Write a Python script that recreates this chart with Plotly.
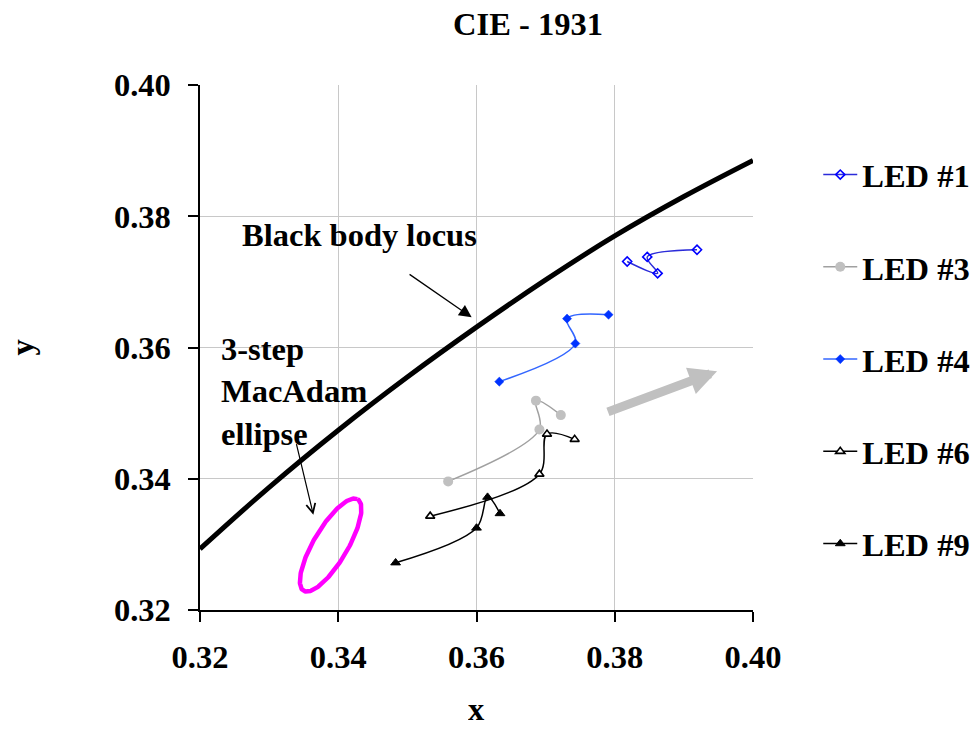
import numpy as np
import plotly.graph_objects as go

# ---- data -------------------------------------------------------------
led1_x = [0.3818, 0.3862, 0.3847, 0.3919]
led1_y = [0.3731, 0.3713, 0.3738, 0.3749]

led3_x = [0.3559, 0.3691, 0.3686, 0.3722]
led3_y = [0.3396, 0.3475, 0.3519, 0.3497]

led4_x = [0.3633, 0.3743, 0.3731, 0.3791]
led4_y = [0.3548, 0.3606, 0.3644, 0.3650]

led6_x = [0.3533, 0.3691, 0.3702, 0.3742]
led6_y = [0.3343, 0.3407, 0.3468, 0.3460]

led9_x = [0.3483, 0.3600, 0.3616, 0.3634]
led9_y = [0.3272, 0.3325, 0.3372, 0.3347]

locus_x = [0.32, 0.33, 0.34, 0.35, 0.36, 0.37, 0.38, 0.39, 0.40]
locus_y = [0.3293, 0.3387, 0.3474, 0.3555, 0.3631, 0.3703, 0.3770, 0.3830, 0.3885]

# 3-step MacAdam ellipse: centre, semi-axes, tilt (degrees)
ell_center = (0.3389, 0.3299)
ell_a, ell_b, ell_theta = 0.0080, 0.0025, 61.0

tick_vals = [0.32, 0.34, 0.36, 0.38, 0.40]
tick_text = ["0.32", "0.34", "0.36", "0.38", "0.40"]

FONT = "Liberation Serif, Times New Roman, serif"
FS = 32.5
BOLD = dict(family=FONT, size=FS, color="black", weight="bold")

fig = go.Figure()

# black body locus
fig.add_trace(go.Scatter(x=locus_x, y=locus_y, mode="lines",
                         line=dict(color="black", width=5, shape="spline"),
                         showlegend=False, hoverinfo="skip"))

# MacAdam ellipse outline
t = np.linspace(0, 2 * np.pi, 200)
th = np.deg2rad(ell_theta)
ex = ell_center[0] + ell_a * np.cos(t) * np.cos(th) - ell_b * np.sin(t) * np.sin(th)
ey = ell_center[1] + ell_a * np.cos(t) * np.sin(th) + ell_b * np.sin(t) * np.cos(th)
fig.add_trace(go.Scatter(x=ex, y=ey, mode="lines",
                         line=dict(color="#ff00ff", width=4.5),
                         showlegend=False, hoverinfo="skip"))

series = [
    ("LED #1", led1_x, led1_y, "#2b2bd9",
     dict(symbol="diamond-open", size=7, color="#0000ff", line=dict(width=1.6, color="#0000ff"))),
    ("LED #3", led3_x, led3_y, "#a0a0a0",
     dict(symbol="circle", size=10, color="#c0c0c0", line=dict(width=0))),
    ("LED #4", led4_x, led4_y, "#3366ff",
     dict(symbol="diamond", size=7, color="#0033ff", line=dict(width=0.5, color="#0033ff"))),
    ("LED #6", led6_x, led6_y, "#000000",
     dict(symbol="triangle-up", size=8, color="white", line=dict(width=1.6, color="black"))),
    ("LED #9", led9_x, led9_y, "#000000",
     dict(symbol="triangle-up", size=8.5, color="black", line=dict(width=1, color="black"))),
]
for name, xs, ys, lc, mk in series:
    fig.add_trace(go.Scatter(x=xs, y=ys, mode="lines+markers", name=name,
                             legendgroup=name,
                             line=dict(color=lc, width=1.5, shape="spline", smoothing=1),
                             marker=mk))

annotations = [
    dict(x=0.3258, y=0.3771, xref="x", yref="y", text="Black body locus",
         showarrow=False, xanchor="left", yanchor="middle"),
    dict(x=0.3228, y=0.3533, xref="x", yref="y",
         text="3-step<br>MacAdam<br>ellipse",
         showarrow=False, xanchor="left", yanchor="middle", align="left"),
    # pointer to the locus
    dict(x=0.3593, y=0.3646, ax=0.3501, ay=0.3713, xref="x", yref="y",
         axref="x", ayref="y", text="", showarrow=True, arrowhead=2,
         arrowsize=2, arrowwidth=1.25, arrowcolor="black"),
    # pointer to the ellipse
    dict(x=0.3364, y=0.3345, ax=0.3339, ay=0.3455, xref="x", yref="y",
         axref="x", ayref="y", text="", showarrow=True, arrowhead=5,
         arrowsize=1.5, arrowwidth=1.2, arrowcolor="black"),
    # drift direction
    dict(x=0.3948, y=0.3564, ax=0.3788, ay=0.3501, xref="x", yref="y",
         axref="x", ayref="y", text="", showarrow=True, arrowhead=2,
         arrowsize=0.62, arrowwidth=9, arrowcolor="#c0c0c0"),
    # axis titles
    dict(x=0.5, y=-0.1886, xref="paper", yref="paper", text="x", height=28,
         showarrow=False, xanchor="center", yanchor="middle"),
    dict(x=-0.322, y=0.5, xref="paper", yref="paper", text="y",
         showarrow=False, xanchor="center", yanchor="middle", textangle=-90),
]

axis_common = dict(
    tickmode="array", tickvals=tick_vals, ticktext=tick_text,
    showgrid=True, gridcolor="#c8c8c8", gridwidth=1,
    showline=True, linecolor="black", linewidth=1.5,
    ticks="outside", ticklen=10, tickwidth=1.5, tickcolor="black",
    zeroline=False, tickfont=BOLD,
)

fig.update_layout(
    width=979, height=730,
    margin=dict(l=200, r=226, t=85, b=120, autoexpand=False),
    paper_bgcolor="white", plot_bgcolor="white",
    font=BOLD,
    title=dict(text="CIE - 1931", x=528 / 979, xanchor="center",
               y=1 - 24 / 730, yanchor="middle", yref="container",
               font=BOLD),
    xaxis=dict(range=[0.32, 0.40], ticklabelstandoff=7, **axis_common),
    yaxis=dict(range=[0.32, 0.40], ticklabelstandoff=11, **axis_common),
    legend=dict(x=1.118, y=0.882, xanchor="left", yanchor="top",
                tracegroupgap=47, itemwidth=34,
                font=BOLD, bgcolor="rgba(0,0,0,0)"),
    annotations=annotations,
    showlegend=True,
)
for a in fig.layout.annotations:
    a.font = BOLD

fig.write_html("out.html")
